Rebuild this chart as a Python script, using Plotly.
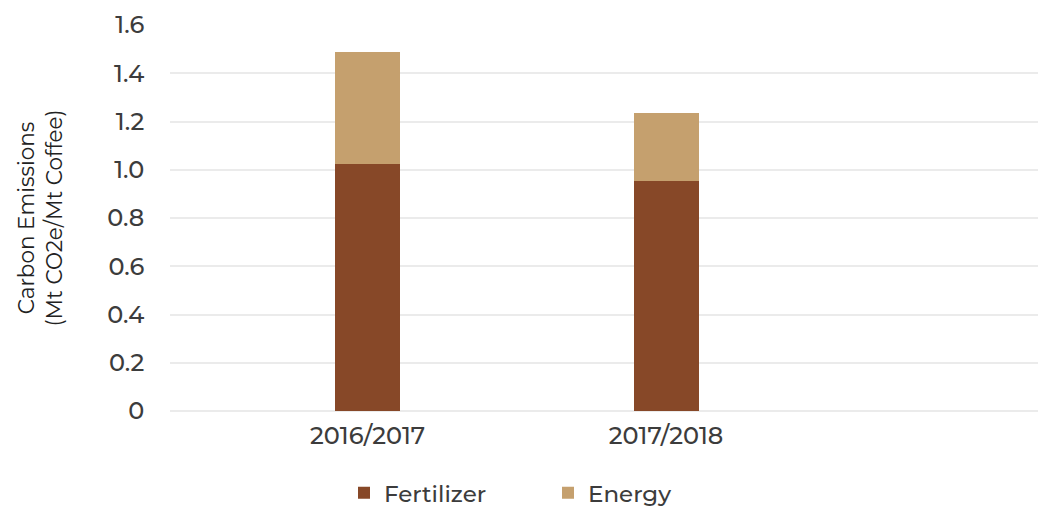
import plotly.graph_objects as go

# Données
seasons = ["2016/2017", "2017/2018"]
fertilizer = [1.025, 0.952]
energy = [0.463, 0.282]
y_ticks = [0, 0.2, 0.4, 0.6, 0.8, 1.0, 1.2, 1.4, 1.6]
y_labels = ["0", "0.2", "0.4", "0.6", "0.8", "1.0", "1.2", "1.4", "1.6"]

font_txt = "Montserrat, 'Open Sans', sans-serif"
grey = "#3c3c3c"

fig = go.Figure()
fig.add_trace(go.Bar(x=seasons, y=fertilizer, name="Fertilizer",
                     marker=dict(color="#874828", line_width=0), width=0.218))
fig.add_trace(go.Bar(x=seasons, y=energy, name="Energy",
                     marker=dict(color="#c5a06e", line_width=0), width=0.218))

fig.update_layout(
    barmode="stack",
    width=1046, height=507,
    margin=dict(l=162, r=14, t=17, b=104, autoexpand=False),
    plot_bgcolor="white", paper_bgcolor="white",
    font=dict(family=font_txt, size=24, color=grey, weight=500),
    legend=dict(orientation="h", x=0.2, xanchor="left", y=-0.212, yanchor="middle",
                traceorder="normal",
                font=dict(size=23, color=grey, weight=500), entrywidth=159,
                entrywidthmode="pixels", itemwidth=30),
    xaxis=dict(type="category", range=[-0.662, 2.253], showgrid=False,
               ticks="outside", ticklen=3, tickcolor="white", showline=False,
               automargin=False),
    yaxis=dict(range=[0, 1.6], tickvals=y_ticks, ticktext=y_labels, automargin=False,
               gridcolor="#ebebeb", gridwidth=2, zeroline=True, zerolinecolor="#ebebeb",
               zerolinewidth=2, ticks="outside", ticklen=20, tickcolor="white",
               title=dict(text="Carbon Emissions<br>(Mt CO2e/Mt Coffee)",
                          font=dict(size=21.5, color="#222222", weight=400), standoff=38)),
)

fig.write_html("out.html")
